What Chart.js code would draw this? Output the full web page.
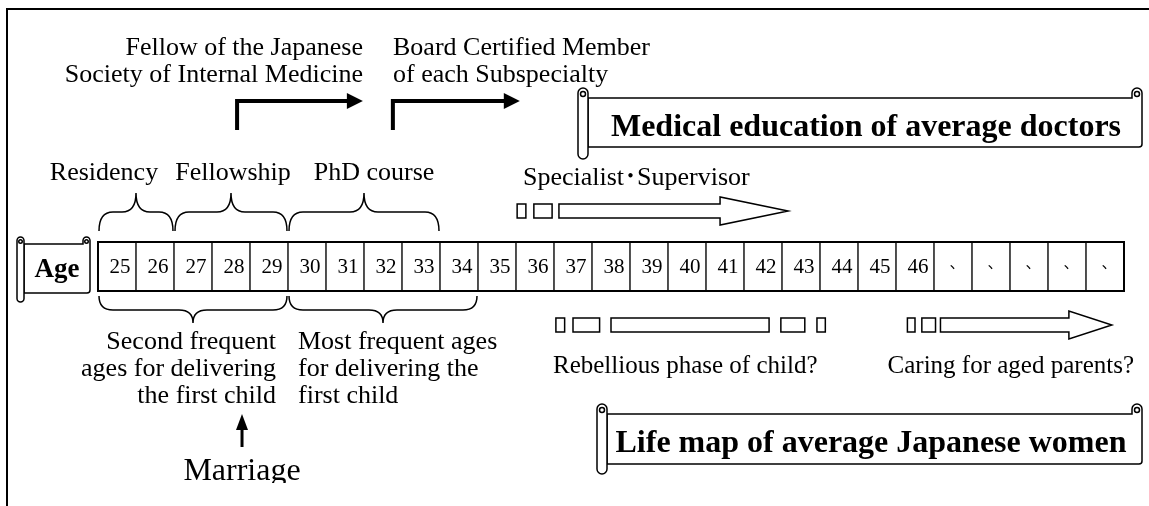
<!DOCTYPE html>
<html>
<head>
<meta charset="utf-8">
<script src="https://cdn.jsdelivr.net/npm/chart.js@4.4.1/dist/chart.umd.min.js"></script>
<style>
    html, body { margin: 0; padding: 0; background: #fff; }
    canvas { display: block; }
</style>
</head>
<body>
<canvas id="lifeMap" width="1149" height="506"></canvas>
<script>
// ==========================================
// LIFE MAP - DATA
// ==========================================

// row of age cells
const ages = ['25', '26', '27', '28', '29', '30', '31', '32', '33', '34', '35', '36',
    '37', '38', '39', '40', '41', '42', '43', '44', '45', '46', '、', '、', '、', '、', '、'];
const firstAge = 25;

// doctors' training periods (from age, to age)
const trainingLabels = ['Residency', 'Fellowship', 'PhD course'];
const trainingFrom = [25, 27, 30];
const trainingTo = [27, 30, 34];

// certification milestones: arrow rises at one age and points to another
const certLabels = [
    ['Fellow of the Japanese', 'Society of Internal Medicine'],
    ['Board Certified Member', 'of each Subspecialty']
];
const certStart = [28.66, 32.76];
const certEnd = [31.97, 36.1];

// ages for delivering the first child
const deliveryLabels = [
    ['Second frequent', 'ages for delivering', 'the first child'],
    ['Most frequent ages', 'for delivering the', 'first child']
];
const deliveryFrom = [25, 30];
const deliveryTo = [30, 35];

const marriageAge = 28.79;

// fading blocks [from, to] (ages); the last block of a row may end in an arrow tip
const specialistBlocks = [[36.03, 36.26], [36.47, 36.95], [37.13, 41.37]];
const specialistTip = 43.16;
const rebelliousBlocks = [[37.05, 37.28], [37.5, 38.2], [38.5, 42.66], [42.97, 43.6], [43.92, 44.14]];
const caringBlocks = [[46.3, 46.5], [46.68, 47.04], [47.17, 50.55]];
const caringTip = 51.68;

// ==========================================
// LAYOUT
// ==========================================
const W = 1149, H = 506;
const cellLeft = 98, cellWidth = 38;
const cellTop = 242, cellBottom = 291;
const SERIF = '"Liberation Serif", "Times New Roman", "Noto Sans CJK JP", serif';

function setFont(ctx, size, bold) {
    ctx.font = (bold ? 'bold ' : '') + size + 'px ' + SERIF;
}

function drawText(ctx, str, x, y, size, align, bold) {
    setFont(ctx, size, bold);
    ctx.textAlign = align || 'left';
    ctx.textBaseline = 'alphabetic';
    ctx.fillStyle = '#000';
    ctx.fillText(str, x, y);
}

function drawBrace(ctx, xa, xb, yEnd, yFlat, yTip) {
    const xm = (xa + xb) / 2;
    const r = Math.min(14, (xb - xa) / 5);
    ctx.beginPath();
    ctx.moveTo(xa, yEnd);
    ctx.quadraticCurveTo(xa, yFlat, xa + r, yFlat);
    ctx.lineTo(xm - r, yFlat);
    ctx.quadraticCurveTo(xm, yFlat, xm, yTip);
    ctx.quadraticCurveTo(xm, yFlat, xm + r, yFlat);
    ctx.lineTo(xb - r, yFlat);
    ctx.quadraticCurveTo(xb, yFlat, xb, yEnd);
    ctx.stroke();
}

function drawScroll(ctx, x0, y0, x1, y1, rollW, drop) {
    const r = rollW / 2;
    ctx.save();
    ctx.lineWidth = 1.5;
    ctx.strokeStyle = '#000';
    ctx.fillStyle = '#fff';
    // body with curl on the top right
    ctx.beginPath();
    ctx.moveTo(x0 + rollW, y0);
    ctx.lineTo(x1 - rollW, y0);
    ctx.lineTo(x1 - rollW, y0 - r);
    ctx.arc(x1 - r, y0 - r, r, Math.PI, 0);
    ctx.lineTo(x1, y1 - 3);
    ctx.quadraticCurveTo(x1, y1, x1 - 3, y1);
    ctx.lineTo(x0 + rollW, y1);
    ctx.closePath();
    ctx.fill();
    ctx.stroke();
    ctx.beginPath();
    ctx.arc(x1 - r, y0 - r + 1, r / 2, 0, Math.PI * 2);
    ctx.stroke();
    // roll on the left
    ctx.beginPath();
    ctx.moveTo(x0, y0 - r);
    ctx.arc(x0 + r, y0 - r, r, Math.PI, 0);
    ctx.lineTo(x0 + rollW, y1 + drop - r);
    ctx.arc(x0 + r, y1 + drop - r, r, 0, Math.PI);
    ctx.closePath();
    ctx.fill();
    ctx.stroke();
    ctx.beginPath();
    ctx.arc(x0 + r, y0 - r + 1, r / 2, 0, Math.PI * 2);
    ctx.stroke();
    ctx.restore();
}

function drawBlocks(ctx, px, blocks, tip, yc, half, headHalf) {
    ctx.save();
    ctx.lineWidth = 1.5;
    ctx.strokeStyle = '#000';
    ctx.fillStyle = '#fff';
    blocks.forEach((b, i) => {
        const a = px(b[0]), e = px(b[1]);
        ctx.beginPath();
        if (tip !== null && i === blocks.length - 1) {
            const t = px(tip);
            ctx.moveTo(a, yc - half);
            ctx.lineTo(e, yc - half);
            ctx.lineTo(e, yc - headHalf);
            ctx.lineTo(t, yc);
            ctx.lineTo(e, yc + headHalf);
            ctx.lineTo(e, yc + half);
            ctx.lineTo(a, yc + half);
            ctx.closePath();
        } else {
            ctx.rect(a, yc - half, e - a, half * 2);
        }
        ctx.fill();
        ctx.stroke();
    });
    ctx.restore();
}

function drawBentArrow(ctx, x, yLow, yHigh, xTip) {
    ctx.save();
    ctx.lineWidth = 4;
    ctx.strokeStyle = '#000';
    ctx.fillStyle = '#000';
    ctx.beginPath();
    ctx.moveTo(x, yLow);
    ctx.lineTo(x, yHigh);
    ctx.lineTo(xTip - 14, yHigh);
    ctx.stroke();
    ctx.beginPath();
    ctx.moveTo(xTip - 16, yHigh - 8);
    ctx.lineTo(xTip, yHigh);
    ctx.lineTo(xTip - 16, yHigh + 8);
    ctx.closePath();
    ctx.fill();
    ctx.restore();
}

const lifeMapPlugin = {
    id: 'lifeMap',
    afterDatasetsDraw(chart) {
        const ctx = chart.ctx;
        const px = v => chart.scales.x.getPixelForValue(v);
        const py = v => chart.scales.y.getPixelForValue(v);

        ctx.save();
        ctx.strokeStyle = '#000';

        // frame
        ctx.lineWidth = 2;
        ctx.beginPath();
        ctx.moveTo(W, py(9));
        ctx.lineTo(7, py(9));
        ctx.lineTo(7, py(H));
        ctx.stroke();

        // outer border of the age row
        ctx.lineWidth = 2;
        ctx.strokeRect(px(firstAge), py(cellTop), px(firstAge + ages.length) - px(firstAge), py(cellBottom) - py(cellTop));

        // ages
        ages.forEach((a, i) => {
            const cx = px(firstAge + i + 0.5);
            if (a === '、') {
                ctx.font = '15px "Noto Sans CJK JP", sans-serif';
                ctx.textAlign = 'center';
                ctx.textBaseline = 'middle';
                ctx.fillStyle = '#000';
                ctx.fillText(a, cx + 4, py(262));
            } else {
                drawText(ctx, a, cx + 3, py(273), 21, 'center');
            }
        });

        // age label scroll
        drawScroll(ctx, 17, py(244), 90, py(293), 7, 9);
        drawText(ctx, 'Age', 57, py(277), 27, 'center', true);

        // certification texts + arrows
        drawText(ctx, certLabels[0][0], 363, py(55), 26, 'right');
        drawText(ctx, certLabels[0][1], 363, py(82), 26, 'right');
        drawText(ctx, certLabels[1][0], 393, py(55), 26, 'left');
        drawText(ctx, certLabels[1][1], 393, py(82), 26, 'left');
        certStart.forEach((s, i) => drawBentArrow(ctx, px(s), py(130), py(101), px(certEnd[i])));

        // medical education title
        drawScroll(ctx, 578, py(98), 1142, py(147), 10, 12);
        drawText(ctx, 'Medical education of average doctors', 866, py(136), 32, 'center', true);

        // training braces + labels
        ctx.lineWidth = 1.5;
        trainingLabels.forEach((lab, i) => {
            const xa = px(trainingFrom[i]) + 1, xb = px(trainingTo[i]) - 1;
            drawBrace(ctx, xa, xb, py(231), py(212), py(193));
        });
        drawText(ctx, trainingLabels[0], 104, py(180), 26, 'center');
        drawText(ctx, trainingLabels[1], 233, py(180), 26, 'center');
        drawText(ctx, trainingLabels[2], 374, py(180), 26, 'center');

        // specialist
        drawText(ctx, 'Specialist･Supervisor', 523, py(185), 26, 'left');
        drawBlocks(ctx, px, specialistBlocks, specialistTip, py(211), 7, 14);

        // delivering braces + labels
        ctx.lineWidth = 1.5;
        deliveryFrom.forEach((f, i) => {
            drawBrace(ctx, px(f) + 1, px(deliveryTo[i]) - 1, py(296), py(310), py(323));
        });
        deliveryLabels[0].forEach((l, j) => drawText(ctx, l, 276, py(349 + j * 27), 26, 'right'));
        deliveryLabels[1].forEach((l, j) => drawText(ctx, l, 298, py(349 + j * 27), 26, 'left'));

        // rebellious / caring
        drawBlocks(ctx, px, rebelliousBlocks, null, py(325), 7, 14);
        drawBlocks(ctx, px, caringBlocks, caringTip, py(325), 7, 14);
        drawText(ctx, 'Rebellious phase of child?', 553, py(373), 25, 'left');
        drawText(ctx, 'Caring for aged parents?', 1134, py(373), 25, 'right');

        // marriage
        const mx = px(marriageAge);
        ctx.fillStyle = '#000';
        ctx.lineWidth = 3;
        ctx.beginPath();
        ctx.moveTo(mx, py(447));
        ctx.lineTo(mx, py(428));
        ctx.stroke();
        ctx.beginPath();
        ctx.moveTo(mx - 6, py(430));
        ctx.lineTo(mx, py(414));
        ctx.lineTo(mx + 6, py(430));
        ctx.closePath();
        ctx.fill();
        ctx.save();
        ctx.beginPath();
        ctx.rect(0, 0, W, py(483));
        ctx.clip();
        drawText(ctx, 'Marriage', mx, py(480), 32, 'center');
        ctx.restore();

        // women title
        drawScroll(ctx, 597, py(414), 1142, py(464), 10, 10);
        drawText(ctx, 'Life map of average Japanese women', 871, py(452), 32, 'center', true);

        ctx.restore();
    }
};

new Chart(document.getElementById('lifeMap'), {
    type: 'bar',
    data: {
        datasets: [{
            data: ages.map((a, i) => ({ x: firstAge + i + 0.5, y: [cellTop, cellBottom] })),
            backgroundColor: '#fff',
            borderColor: '#000',
            borderWidth: 1,
            borderSkipped: false,
            barThickness: cellWidth
        }]
    },
    options: {
        responsive: false,
        animation: false,
        devicePixelRatio: 1,
        layout: { padding: 0 },
        plugins: { legend: { display: false }, tooltip: { enabled: false } },
        scales: {
            x: {
                type: 'linear',
                display: false,
                offset: false,
                min: firstAge - cellLeft / cellWidth,
                max: firstAge + (W - cellLeft) / cellWidth
            },
            y: { type: 'linear', display: false, reverse: true, min: 0, max: H }
        }
    },
    plugins: [lifeMapPlugin]
});
</script>
</body>
</html>
